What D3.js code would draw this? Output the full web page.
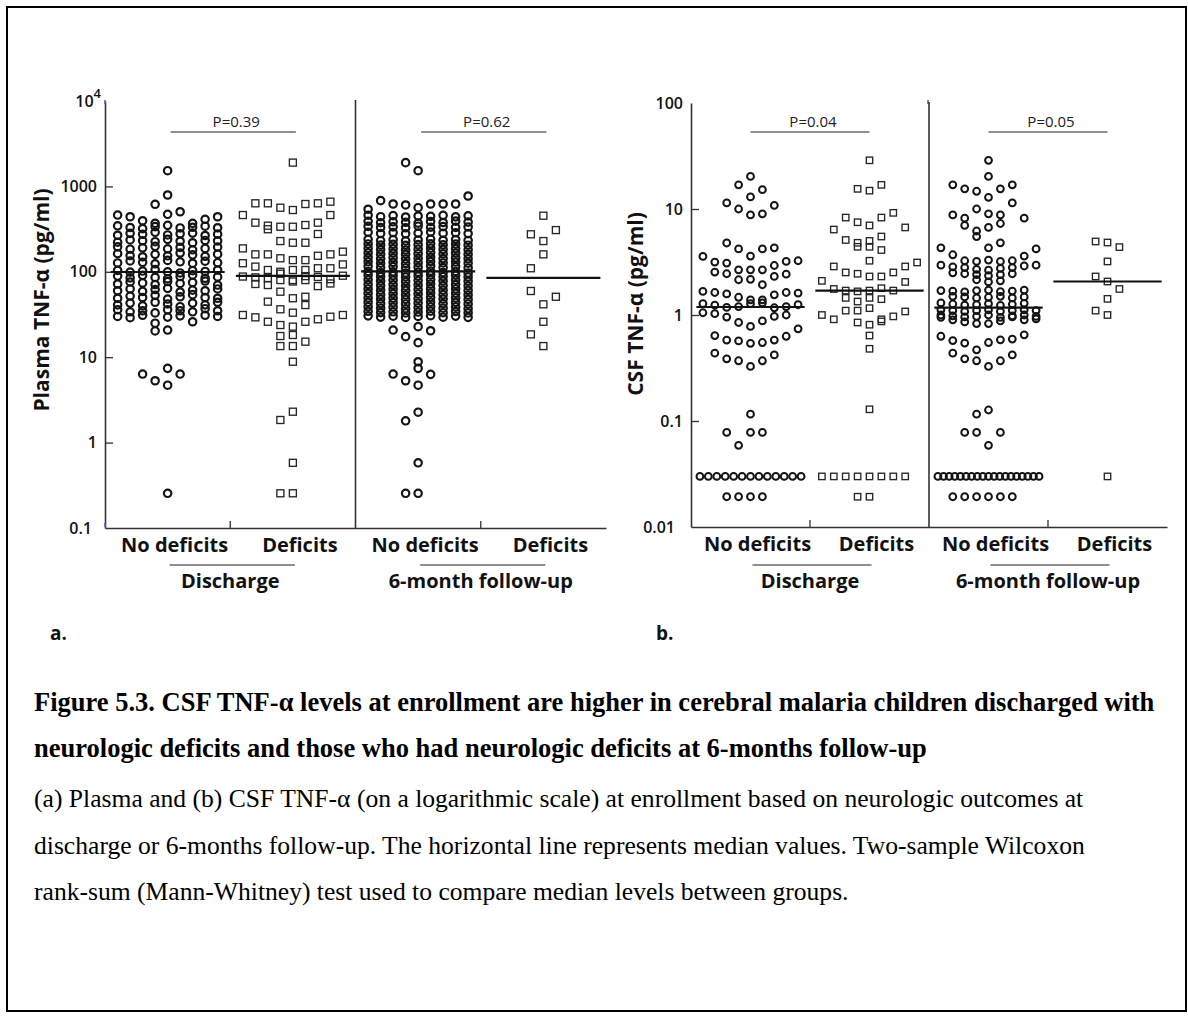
<!DOCTYPE html>
<html>
<head>
<meta charset="utf-8">
<script src="https://cdn.jsdelivr.net/npm/d3@7"></script>
<style>
  body { margin: 0; background: #fff; }
  svg { display: block; }
</style>
</head>
<body>
<div id="chart"></div>
<script>
// ---- data (values in pg/ml; each inner array = one dot-plot bin, left to right)
var categories = ["No deficits", "Deficits", "No deficits", "Deficits"];
var groups = ["Discharge", "6-month follow-up"];
var ticksA = [0.1, 1, 10, 100, 1000, 10000];
var ticksB = [0.01, 0.1, 1, 10, 100];
var pA = ["P=0.39", "P=0.62"];
var pB = ["P=0.04", "P=0.05"];

var plasmaDischNo = [
  [1528],
  [617, 793],
  [462, 441, 396, 370, 471, 505, 370, 412, 441],
  [345, 330, 320, 338, 350, 326, 332, 342, 328],
  [268, 282, 275, 290, 270, 279, 284, 266, 276],
  [222, 236, 231, 225, 240, 228, 219, 233, 230],
  [196, 184, 191, 199, 186, 193, 181, 188, 195],
  [163, 155, 150, 160, 154, 166, 158, 152, 161],
  [127, 134, 129, 124, 136, 131, 126, 133, 128],
  [104, 99, 102, 106, 100, 97, 103, 101, 105],
  [89, 85, 91, 86, 83, 88, 92, 84, 87],
  [72, 76, 74, 71, 77, 73, 75, 78, 70],
  [60, 63, 59, 62, 64, 58, 61, 60, 63],
  [49, 52, 50, 53, 48, 51, 54, 50, 49],
  [41, 43, 40, 44, 42, 39, 43, 41, 44],
  [36, 34, 35, 33, 36, 35, 34, 37, 35],
  [30, 29, 31, 25, 29.5, 30.5, 26, 31, 30],
  [20.3, 20.8],
  [6.35, 5.3, 7.4, 6.35],
  [4.7],
  [0.255]
];
var plasmaDischDef = [
  [1900],
  [634, 634, 563, 529, 622, 634, 662],
  [462, 376, 347, 337, 337, 353, 376, 462],
  [315, 229, 219, 219, 277],
  [188, 160, 160, 144, 137, 137, 154, 160, 172],
  [126, 115, 105, 100, 105, 105, 110, 110, 122],
  [88, 86, 84, 95, 80, 89, 87, 82, 90],
  [72, 70, 80, 77, 80, 68, 73],
  [44.7, 58.5, 49, 51],
  [36.4, 33.2, 40.8],
  [31.2, 29.3, 26, 23.8, 22.8, 26, 27.8, 29.8, 31.2],
  [13.5, 13.5, 15.2],
  [17.7, 18.2],
  [8.85],
  [1.84, 2.3],
  [0.58],
  [0.255, 0.255]
];
var plasmaSixNo = [
  [1897, 1528],
  [540, 681, 622, 606, 563, 622, 622, 622, 772],
  [460, 442, 455, 438, 450, 446, 458, 440, 452],
  [390, 376, 385, 380, 372, 388, 378, 392, 382],
  [340, 330, 336, 328, 342, 333, 338, 331, 335],
  [290, 281, 288, 279, 284, 292, 283, 287, 280],
  [240, 232, 238, 230, 236, 242, 234, 239, 233],
  [212, 206, 210, 204, 208, 213, 207, 211, 205],
  [188, 182, 186, 180, 184, 189, 183, 187, 181],
  [167, 161, 165, 160, 163, 168, 162, 166, 160],
  [147, 142, 146, 141, 144, 148, 143, 146, 142],
  [131, 126, 129, 125, 128, 132, 127, 130, 126],
  [116, 112, 115, 111, 113, 117, 112, 115, 111],
  [101, 98, 100, 97, 99, 102, 98, 101, 97],
  [91, 88, 90, 87, 89, 92, 88, 91, 87],
  [80.5, 78, 80, 77, 79, 81, 78, 80, 77.5],
  [71, 69, 70.5, 68, 70, 72, 69, 71, 68.5],
  [63, 61, 62.5, 60.5, 62, 63.5, 61, 63, 60.5],
  [56, 54, 55.5, 53.5, 55, 56.5, 54, 56, 53.5],
  [49.5, 48, 49, 47.5, 48.5, 50, 48, 49.5, 47.5],
  [44, 42.5, 43.5, 42, 43, 44.2, 42.5, 43.8, 42],
  [39, 37.5, 38.5, 37, 38, 39, 37.5, 38.8, 37],
  [34.5, 33.3, 34, 33, 33.8, 34.6, 33.2, 34.3, 33],
  [30.5, 29.5, 30.2, 29.2, 30, 30.6, 29.4, 30.3, 29.3],
  [22.8],
  [20.8, 17.4, 14.8, 20.4],
  [8.85],
  [6.35, 5.3, 7.4, 6.3],
  [4.7],
  [1.8, 2.27],
  [0.58],
  [0.255, 0.255]
];
var plasmaSixDef = [
  [454],
  [275, 229, 308],
  [110, 160],
  [59.6, 41.6, 51],
  [26],
  [18.5, 13.5]
];

var csfDischNo = [
  [20.3],
  [16.9, 13.0, 15.2],
  [11.4, 10.0, 8.8, 9.0, 10.8],
  [4.78, 4.2, 3.6, 4.2, 4.3],
  [3.57, 3.16, 3.09, 2.67, 2.67, 2.67, 2.93, 3.2, 3.25],
  [2.54, 2.45, 2.15, 2.17, 1.93, 2.31, 2.43],
  [1.67, 1.63, 1.58, 1.47, 1.39, 1.39, 1.55, 1.63, 1.61],
  [1.28, 1.24, 1.18, 1.2, 1.28, 1.3, 1.17, 1.2, 1.25],
  [1.05, 1.03, 0.955, 0.85, 0.78, 0.88, 0.97, 1.0, 0.74],
  [0.64, 0.58, 0.57, 0.54, 0.55, 0.58, 0.63],
  [0.436, 0.386, 0.37, 0.327, 0.37, 0.42],
  [0.116],
  [0.078, 0.059, 0.078, 0.078],
  [0.03, 0.03, 0.03, 0.03, 0.03, 0.03, 0.03, 0.03, 0.03, 0.03, 0.03, 0.03, 0.03],
  [0.0193, 0.0193, 0.0193, 0.0193]
];
var csfDischDef = [
  [28.8],
  [15.5, 14.9, 16.9],
  [6.4, 8.3, 7.5, 7.0, 8.3, 9.2, 6.7],
  [5.1, 4.8, 5.0, 5.5],
  [4.4, 4.4, 4.1],
  [3.25],
  [2.1, 2.87, 2.52, 2.45, 2.31, 2.31, 2.52, 2.87, 3.13],
  [1.76, 1.70, 1.67, 1.70, 1.79, 1.70, 2.05],
  [1.45, 1.34, 1.45, 1.41],
  [1.0, 0.91, 1.10, 1.10, 1.16, 0.91, 0.97, 1.08],
  [0.85, 0.81, 0.87],
  [0.64],
  [0.48],
  [0.129],
  [0.03, 0.03, 0.03, 0.03, 0.03, 0.03, 0.03, 0.03],
  [0.0193, 0.0193]
];
var csfSixNo = [
  [28.8],
  [20.3],
  [16.9, 15.5, 14.7, 12.9, 15.5, 16.9],
  [8.8, 8.2, 10, 9.0, 8.8, 11.4, 8.2],
  [7.0, 6.2, 6.7, 7.3],
  [5.5, 4.3, 4.8],
  [4.3, 3.7, 3.25, 3.2, 3.3, 3.2, 3.25, 3.6, 4.2],
  [2.95, 2.85, 2.8, 2.7, 2.65, 2.75, 2.8, 2.9, 2.95],
  [2.5, 2.45, 2.4, 2.35, 2.4, 2.45],
  [2.15, 2.05, 2.1],
  [1.7, 1.68, 1.65, 1.7, 1.72, 1.66, 1.68, 1.72],
  [1.5, 1.48, 1.45, 1.47, 1.5, 1.45, 1.48],
  [1.3, 1.27, 1.24, 1.25, 1.28, 1.23, 1.26, 1.29],
  [1.12, 1.1, 1.08, 1.1, 1.12, 1.08, 1.1, 1.12, 1.1],
  [1.0, 0.98, 0.96, 0.97, 1.0, 0.95, 0.98, 1.0, 0.97],
  [0.95, 0.9, 0.86, 0.83, 0.83, 0.88, 0.96, 0.9, 0.92],
  [0.63, 0.574, 0.543, 0.469, 0.55, 0.583, 0.593, 0.65],
  [0.436, 0.386, 0.37, 0.327, 0.37, 0.42],
  [0.116, 0.127],
  [0.078, 0.078, 0.059, 0.078],
  [0.03, 0.03, 0.03, 0.03, 0.03, 0.03, 0.03, 0.03, 0.03, 0.03, 0.03, 0.03, 0.03, 0.03, 0.03, 0.03, 0.03, 0.03, 0.03],
  [0.0193, 0.0193, 0.0193, 0.0193, 0.0193, 0.0193]
];
var csfSixDef = [
  [4.94, 4.83, 4.37],
  [3.2],
  [2.31, 2.07, 1.76],
  [1.42],
  [1.10, 1.0],
  [0.03]
];

var captionBold = [
  "Figure 5.3. CSF TNF-\u03b1 levels at enrollment are higher in cerebral malaria children discharged with",
  "neurologic deficits and those who had neurologic deficits at 6-months follow-up"
];
var captionText = [
  "(a) Plasma and (b) CSF TNF-\u03b1 (on a logarithmic scale) at enrollment based on neurologic outcomes at",
  "discharge or 6-months follow-up. The horizontal line represents median values. Two-sample Wilcoxon",
  "rank-sum (Mann-Whitney) test used to compare median levels between groups."
];

// ---- drawing
var sans = "'Open Sans', 'DejaVu Sans', sans-serif";
var serif = "'Liberation Serif', 'Times New Roman', serif";
var ink = "#141414";

var svg = d3.select("#chart").append("svg")
    .attr("width", 1188)
    .attr("height", 1019);

svg.append("rect")
    .attr("x", 7).attr("y", 7)
    .attr("width", 1179).attr("height", 1004)
    .attr("fill", "none").attr("stroke", "#000").attr("stroke-width", 2);

// spread the points of each bin sideways, like a Stata dot plot
function layoutRows(rows, cx, step) {
  var pts = [];
  rows.forEach(function(row) {
    var n = row.length;
    var s = n > 9 ? (8.5 * step) / (n - 1) : step;
    row.forEach(function(v, i) {
      var k = n > 9 ? i - (n - 1) / 2 : i - Math.floor(n / 2);
      pts.push({ v: v, dx: k * s });
    });
  });
  return pts;
}

function drawPanel(p) {
  var g = svg.append("g");
  var x = d3.scaleBand().domain(d3.range(4)).range([p.x0, p.x1]);
  var y = d3.scaleLog().domain(p.domain).range([p.yBot, p.yTop]);
  var bw = x.bandwidth();
  var cx = function(i) { return x(i) + bw / 2; };

  // y axis, ticks pointing inwards
  var ya = g.append("g")
      .attr("transform", "translate(" + p.x0 + ",0)")
      .call(d3.axisLeft(y).tickValues(p.ticks)
        .tickFormat(function(d) { return d === 10000 ? "10" : d3.format("~g")(d); })
        .tickSizeInner(-8).tickSizeOuter(0).tickPadding(8));
  ya.select(".domain").attr("stroke", "#333").attr("stroke-width", 1.6);
  ya.selectAll(".tick line").attr("stroke", "#333").attr("stroke-width", 1.3)
    .filter(function(d) { return d === p.domain[0] || d === p.domain[1]; }).remove();
  ya.selectAll(".tick text")
      .attr("font-family", sans).attr("font-size", 16).attr("font-weight", 600).attr("fill", "#111");
  ya.selectAll(".tick text").filter(function(d) { return d === p.domain[0]; })
      .attr("x", p.lowShift);
  ya.selectAll(".tick text").filter(function(d) { return d === 10000; })
      .attr("x", -4)
      .append("tspan").attr("dy", "-0.7em").attr("font-size", 13).text("4");

  // small blue marks at the axis ends (as in the original artwork)
  p.blue.forEach(function(b) {
    g.append("line").attr("x1", b[0]).attr("x2", b[0]).attr("y1", b[1]).attr("y2", b[1] + 4)
      .attr("stroke", "#4a5fd0").attr("stroke-width", 1.6);
  });

  // x axis
  var xa = g.append("g")
      .attr("transform", "translate(0," + p.yBot + ")")
      .call(d3.axisBottom(x).tickFormat(function(i) { return categories[i]; })
        .tickSize(0).tickPadding(10));
  xa.select(".domain").attr("stroke", "#333").attr("stroke-width", 1.6);
  xa.selectAll(".tick text").attr("x", 7)
      .attr("font-family", sans).attr("font-size", 20).attr("font-weight", 700).attr("fill", "#111");

  [1, 3].forEach(function(i) {
    g.append("line").attr("x1", x(i)).attr("x2", x(i))
      .attr("y1", p.yBot).attr("y2", p.yBot - 7)
      .attr("stroke", "#333").attr("stroke-width", 1.3);
  });
  g.append("line").attr("x1", x(2)).attr("x2", x(2))
    .attr("y1", p.yTop - 1).attr("y2", p.yBot)
    .attr("stroke", "#333").attr("stroke-width", 1.6);

  // group labels and P values
  groups.forEach(function(name, k) {
    var a = cx(2 * k), b = cx(2 * k + 1);
    g.append("line").attr("x1", a + 2).attr("x2", b + 2).attr("y1", 565).attr("y2", 565)
      .attr("stroke", "#222").attr("stroke-width", 1.2);
    g.append("text").attr("x", x(2 * k + 1)).attr("y", 588)
      .attr("text-anchor", "middle")
      .attr("font-family", sans).attr("font-size", 20).attr("font-weight", 700).attr("fill", "#111")
      .text(name);
    g.append("line").attr("x1", a + p.pOff).attr("x2", b + p.pOff).attr("y1", 132).attr("y2", 132)
      .attr("stroke", "#222").attr("stroke-width", 1.2);
    g.append("text").attr("x", (a + b) / 2 + p.pOff + 3).attr("y", 127)
      .attr("text-anchor", "middle")
      .attr("font-family", sans).attr("font-size", 15).attr("fill", "#222")
      .text(p.pvals[k]);
  });

  // dots
  p.data.forEach(function(rows, i) {
    var pts = layoutRows(rows, cx(i), p.step);
    if (i % 2 === 0) {
      g.append("g").selectAll("circle").data(pts).enter().append("circle")
        .attr("cx", function(d) { return cx(i) + d.dx; })
        .attr("cy", function(d) { return y(d.v); })
        .attr("r", p.r)
        .attr("fill", "none").attr("stroke", ink).attr("stroke-width", p.cw);
    } else {
      g.append("g").selectAll("rect").data(pts).enter().append("rect")
        .attr("x", function(d) { return cx(i) + d.dx - p.sq / 2; })
        .attr("y", function(d) { return y(d.v) - p.sq / 2; })
        .attr("width", p.sq).attr("height", p.sq)
        .attr("fill", "none").attr("stroke", "#262626").attr("stroke-width", 1.35);
    }
    var med = d3.median(rows.flat());
    g.append("line")
      .attr("x1", cx(i) - 0.455 * bw).attr("x2", cx(i) + 0.455 * bw)
      .attr("y1", y(med)).attr("y2", y(med))
      .attr("stroke", "#111").attr("stroke-width", 2.2);
  });

  // y title
  g.append("text")
    .attr("transform", "translate(" + p.titleX + "," + p.titleY + ") rotate(-90)")
    .attr("text-anchor", "middle")
    .attr("font-family", sans).attr("font-size", 21).attr("font-weight", 700).attr("fill", "#111")
    .text(p.title);

  g.append("text").attr("x", p.letter[0]).attr("y", p.letter[1])
    .attr("font-family", sans).attr("font-size", 19).attr("font-weight", 700).attr("fill", "#111")
    .text(p.letter[2]);
}

drawPanel({
  x0: 105, x1: 606, yTop: 101, yBot: 528, domain: [0.1, 10000], ticks: ticksA,
  data: [plasmaDischNo, plasmaDischDef, plasmaSixNo, plasmaSixDef],
  pvals: pA, pOff: 3, step: 12.5, r: 3.7, cw: 2.2, sq: 7,
  lowShift: -13, blue: [[105, 100], [105, 523]],
  title: "Plasma TNF-\u03b1 (pg/ml)", titleX: 49, titleY: 300,
  letter: [50, 640, "a."]
});
drawPanel({
  x0: 691, x1: 1167, yTop: 103, yBot: 527, domain: [0.01, 100], ticks: ticksB,
  data: [csfDischNo, csfDischDef, csfSixNo, csfSixDef],
  pvals: pB, pOff: 0, step: 11.9, r: 3.4, cw: 2, sq: 6.4,
  lowShift: -16, blue: [[928, 100]],
  title: "CSF TNF-\u03b1 (pg/ml)", titleX: 643, titleY: 304,
  letter: [656, 640, "b."]
});

// caption
var cap = svg.append("g").attr("font-family", serif).attr("fill", "#000");
captionBold.forEach(function(t, i) {
  cap.append("text").attr("x", 34).attr("y", 711 + i * 46)
    .attr("font-size", 26.5).attr("font-weight", 700).text(t);
});
captionText.forEach(function(t, i) {
  cap.append("text").attr("x", 34).attr("y", 807 + i * 46.5)
    .attr("font-size", 25.6).text(t);
});
</script>
</body>
</html>
